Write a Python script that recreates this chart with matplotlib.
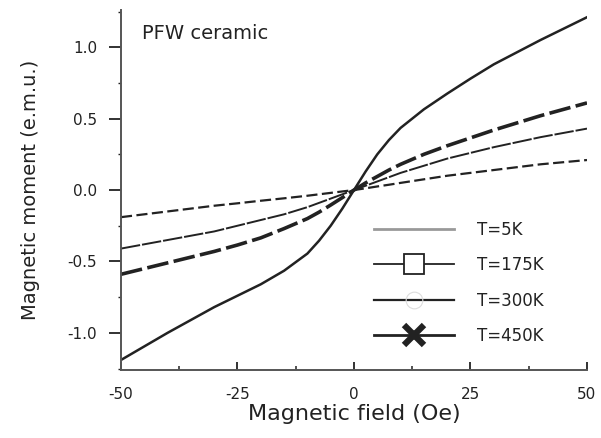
import matplotlib.pyplot as plt
from matplotlib.lines import Line2D
from matplotlib.ticker import MultipleLocator

field = [-50, -40, -30, -25, -20, -15, -10, -7.5, -5, -2.5, 0,
         2.5, 5, 7.5, 10, 15, 20, 25, 30, 40, 50]

m_5k = [-1.19, -1.00, -0.82, -0.74, -0.66, -0.565, -0.445, -0.355, -0.25, -0.13, 0.0,
        0.13, 0.25, 0.35, 0.435, 0.565, 0.675, 0.78, 0.88, 1.05, 1.21]
m_175k = [-0.59, -0.51, -0.43, -0.385, -0.335, -0.27, -0.20, -0.155, -0.105, -0.053, 0.0,
          0.05, 0.095, 0.14, 0.18, 0.25, 0.31, 0.365, 0.42, 0.52, 0.61]
m_300k = [-0.41, -0.35, -0.29, -0.25, -0.21, -0.17, -0.12, -0.09, -0.06, -0.03, 0.0,
          0.03, 0.06, 0.09, 0.12, 0.17, 0.22, 0.26, 0.30, 0.37, 0.43]
m_450k = [-0.19, -0.15, -0.11, -0.093, -0.075, -0.058, -0.04, -0.03, -0.02, -0.01, 0.0,
          0.012, 0.025, 0.037, 0.05, 0.075, 0.10, 0.12, 0.14, 0.18, 0.21]

labels = ["T=5K", "T=175K", "T=300K", "T=450K"]

fig = plt.figure(figsize=(6.01, 4.38), dpi=100)
ax = fig.add_axes([0.2013, 0.1553, 0.7754, 0.8217])

ink = "#222222"
ax.plot(field, m_5k, color=ink, lw=1.8)
ax.plot(field, m_175k, color=ink, lw=2.6, ls=(0, (6, 1.5)))
ax.plot(field, m_300k, color=ink, lw=1.4, ls=(0, (10, 1)))
ax.plot(field, m_450k, color=ink, lw=1.6, ls=(0, (5, 2)))

ax.set_xlim(-50, 50)
ax.set_ylim(-1.26, 1.26)
ax.spines["top"].set_visible(False)
ax.spines["right"].set_visible(False)
for s in ("left", "bottom"):
    ax.spines[s].set_color("#555555")
    ax.spines[s].set_linewidth(1.4)

ax.xaxis.set_major_locator(MultipleLocator(25))
ax.xaxis.set_minor_locator(MultipleLocator(12.5))
ax.yaxis.set_major_locator(MultipleLocator(0.5))
ax.yaxis.set_minor_locator(MultipleLocator(0.25))
ax.tick_params(axis="x", which="major", direction="in", length=6, width=1.3,
               labelsize=11, pad=12, colors=ink)
ax.tick_params(axis="x", which="minor", direction="in", length=3, width=1.1, colors=ink)
ax.tick_params(axis="y", which="major", direction="out", length=9, width=1.3,
               labelsize=11, pad=8, colors=ink)
ax.tick_params(axis="y", which="minor", direction="out", length=2, width=1.0, colors=ink)
ax.set_xticks([-50, -25, 0, 25, 50])
ax.set_xticklabels(["-50", "-25", "0", "25", "50"])
ax.set_yticks([-1.0, -0.5, 0.0, 0.5, 1.0])
ax.set_yticklabels(["-1.0", "-0.5", "0.0", "0.5", "1.0"])

ax.set_xlabel("Magnetic field (Oe)", fontsize=16, color=ink, labelpad=2)
ax.set_ylabel("Magnetic moment (e.m.u.)", fontsize=14, color=ink, labelpad=20)
ax.text(0.045, 0.96, "PFW ceramic", transform=ax.transAxes, fontsize=14,
        color=ink, va="top", ha="left")

handles = [
    Line2D([], [], color="#999999", lw=2.0),
    Line2D([], [], color=ink, lw=1.3, marker="s", markersize=15,
           markerfacecolor="white", markeredgecolor=ink, markeredgewidth=1.3),
    Line2D([], [], color=ink, lw=1.6, marker="o", markersize=12,
           markerfacecolor="none", markeredgecolor="#dddddd", markeredgewidth=0.8),
    Line2D([], [], color=ink, lw=2.0, marker="x", markersize=15, markeredgewidth=4.5),
]
ax.legend(handles, labels, loc="lower right", bbox_to_anchor=(0.94, 0.027),
          frameon=False, fontsize=12, handlelength=4.8, handletextpad=1.4,
          labelspacing=1.05, labelcolor=ink)

fig.savefig("out.png", dpi=100, facecolor="white")
